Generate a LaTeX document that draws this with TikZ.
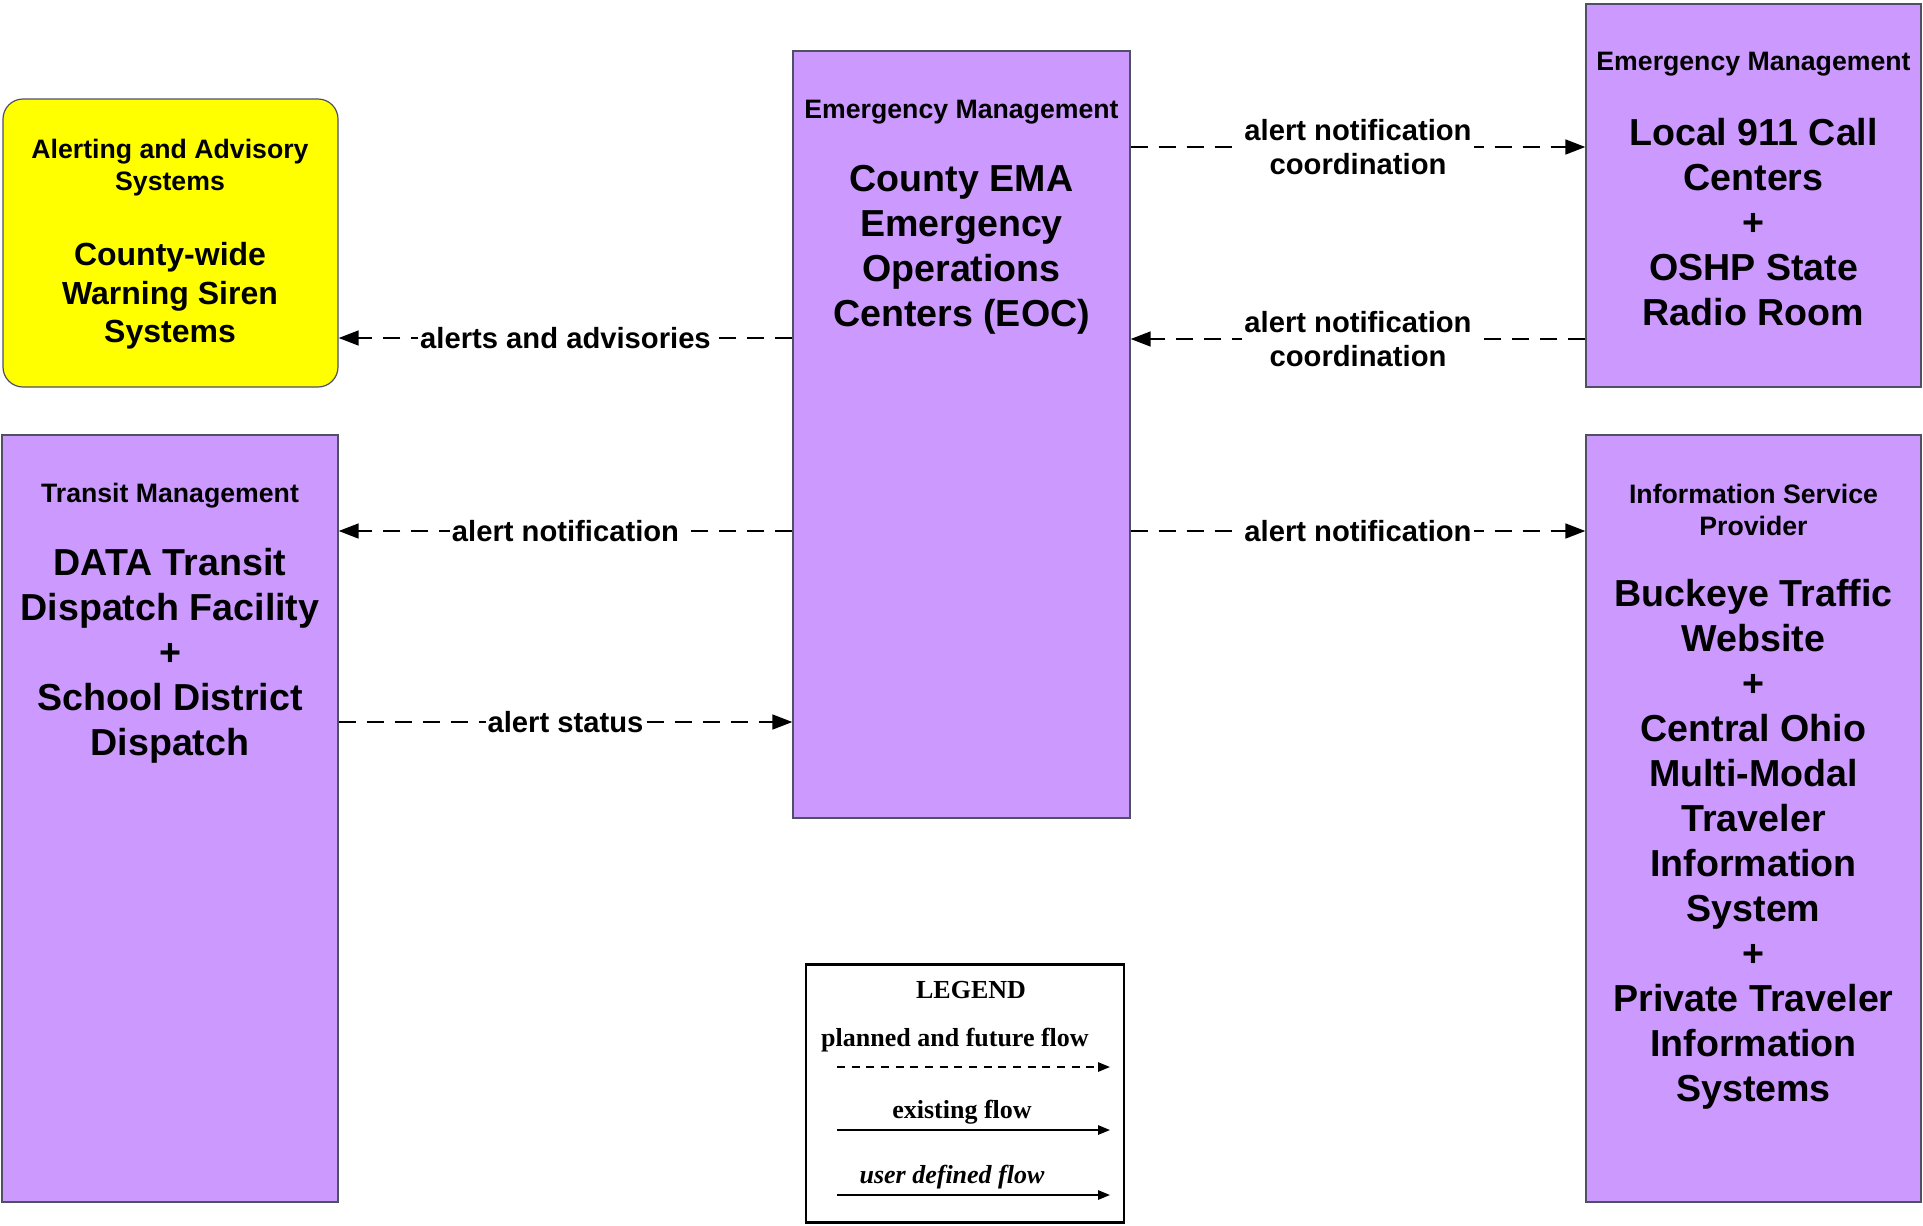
\documentclass[tikz,border=0pt]{standalone}
\usepackage{fontspec}
\setmainfont{Liberation Sans}
\newfontfamily\legendfont{Liberation Serif}
\usetikzlibrary{arrows.meta}
\definecolor{boxpurple}{RGB}{204,153,255}
\definecolor{boxyellow}{RGB}{255,255,0}
\definecolor{boxedge}{RGB}{80,80,100}
\tikzset{
  pbox/.style={draw=boxedge, fill=boxpurple, line width=0.9pt, inner sep=0pt},
  ybox/.style={draw=boxedge, fill=boxyellow, line width=0.9pt, inner sep=0pt, rounded corners=15pt},
  hdr/.style={font=\bfseries\fontsize{20}{24}\selectfont, align=center, inner sep=0pt},
  bigtxt/.style={font=\bfseries\fontsize{28.2}{33.75}\selectfont, align=center, inner sep=0pt},
  midtxt/.style={font=\bfseries\fontsize{24}{29}\selectfont, align=center, inner sep=0pt},
  flow/.style={line width=1.9pt, dash pattern=on 13pt off 8pt, -{Triangle[length=15pt,width=11pt]}},
  flowlbl/.style={font=\bfseries\fontsize{21.9}{25.5}\selectfont, align=center, fill=white, inner sep=1.5pt},
  legtxt/.style={font=\legendfont\bfseries\fontsize{19.5}{23}\selectfont, inner sep=0pt},
  legarrow/.style={line width=1.4pt, -{Triangle[length=9pt,width=7pt]}}
}
\begin{document}
\begin{tikzpicture}[x=0.75pt, y=-0.75pt]
\useasboundingbox (0,0) rectangle (1923,1225);

% boxes
\node[ybox, minimum width=251.25pt, minimum height=216pt] (alert) at (170.5,243) {};
\node[pbox, minimum width=252pt, minimum height=575.25pt] (transit) at (170,818.5) {};
\node[pbox, minimum width=252.75pt, minimum height=575.25pt] (ema) at (961.5,434.5) {};
\node[pbox, minimum width=251.25pt, minimum height=287.25pt] (call) at (1753.5,195.5) {};
\node[pbox, minimum width=251.25pt, minimum height=575.25pt] (isp) at (1753.5,818.5) {};

% texts
\node[hdr] (alertH) at (170,167.5) {Alerting and Advisory\\Systems};
\node[midtxt] (alertB) at (170,296) {County-wide\\Warning Siren\\Systems};

\node[hdr] (transitH) at (170,496) {Transit Management};
\node[bigtxt] (transitB) at (170,655.5) {DATA Transit\\Dispatch Facility\\+\\School District\\Dispatch};

\node[hdr] (emaH) at (961.5,112) {Emergency Management};
\node[bigtxt] (emaB) at (961.5,249.5) {County EMA\\Emergency\\Operations\\Centers (EOC)};

\node[hdr] (callH) at (1753.5,64) {Emergency Management};
\node[bigtxt] (callB) at (1753.5,222) {Local 911 Call\\Centers\\+\\OSHP State\\Radio Room};

\node[hdr] (ispH) at (1753.5,510) {Information Service\\Provider};
\node[bigtxt] (ispB) at (1753.5,844.5) {Buckeye Traffic\\Website\\+\\Central Ohio\\Multi-Modal\\Traveler\\Information\\System\\+\\Private Traveler\\Information\\Systems};

% flows
\draw[flow] (ema.west |- 0,338) -- node[flowlbl] (l1) {alerts and advisories} (alert.east |- 0,338);
\draw[flow] (ema.east |- 0,147) -- node[flowlbl] (l2) {alert notification\\coordination} (call.west |- 0,147);
\draw[flow] (call.west |- 0,339) -- node[flowlbl] (l3) {alert notification\\coordination} (ema.east |- 0,339);
\draw[flow] (ema.west |- 0,531) -- node[flowlbl] (l4) {alert notification} (transit.east |- 0,531);
\draw[flow] (ema.east |- 0,531) -- node[flowlbl] (l5) {alert notification} (isp.west |- 0,531);
\draw[flow] (transit.east |- 0,722) -- node[flowlbl] (l6) {alert status} (ema.west |- 0,722);

% legend
\node[draw=black, line width=2.2pt, minimum width=238.5pt, minimum height=193pt, inner sep=0pt] (legend) at (965,1093.5) {};
\node[legtxt] (legT) at (971,990) {LEGEND};
\node[legtxt] (leg1) at (955,1040) {planned and future flow};
\node[legtxt] (leg2) at (962,1112) {existing flow};
\node[legtxt, font=\legendfont\bfseries\itshape\fontsize{19.5}{23}\selectfont] (leg3) at (952,1177) {user defined flow};
\coordinate (a1s) at (837,1067); \coordinate (a1e) at (1110,1067);
\coordinate (a2s) at (837,1130); \coordinate (a2e) at (1110,1130);
\coordinate (a3s) at (837,1195); \coordinate (a3e) at (1110,1195);
\draw[legarrow, dash pattern=on 6pt off 5pt] (a1s) -- (a1e);
\draw[legarrow] (a2s) -- (a2e);
\draw[legarrow] (a3s) -- (a3e);
\end{tikzpicture}
\end{document}
